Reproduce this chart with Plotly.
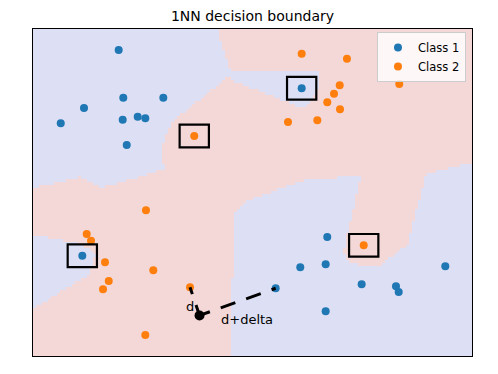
import numpy as np
import plotly.graph_objects as go

# ---- data ----
class1_x = [-1.829, -1.766, -1.219, -2.303, -2.621, -1.774, -1.569, -1.465, -1.719, 0.672,
            -2.326, 1.022, 0.653, 1.000, 2.635, 0.317, 1.492, 1.961, 1.998, 1.000]
class1_y = [1.961, 1.305, 1.305, 1.163, 0.952, 1.002, 1.043, 1.021, 0.654, 1.434,
            -0.870, -0.612, -1.029, -0.988, -1.015, -1.318, -1.263, -1.291, -1.369, -1.635]
class2_x = [-0.796, 0.672, 1.291, 1.192, 1.114, 1.022, 1.196, 2.006, 0.485, 0.886,
            -1.456, -2.266, -2.207, -2.016, -1.356, -1.965, -2.043, -0.854, -1.465, 1.520]
class2_y = [0.778, 1.910, 1.841, 1.475, 1.360, 1.241, 1.145, 1.493, 0.970, 0.994,
            -0.245, -0.571, -0.663, -0.960, -1.070, -1.218, -1.332, -1.304, -1.961, -0.727]
# boxed (label-noise) points: (class, index)
boxed = [(2, 0), (1, 9), (1, 10), (2, 19)]
query_x = [-0.724]
query_y = [-1.692]
label_d = ("d", -0.936, -1.562)
label_dd = ("d+delta", -0.454, -1.741)
x_range = [-3.0, 3.0]
y_range = [-2.25, 2.25]

# ---- styles ----
BLUE = "#1f77b4"
ORANGE = "#ff7f0e"
BG_BLUE = "#dde0f5"
BG_PINK = "#f4d8d8"
box_hw, box_hh = 0.2, 0.156
dash_style = "11px,11.5px,15.5px,11.5px,15.5px,11.5px,15.5px,11.5px"

# ---- 1NN decision region on a grid ----
X = np.array(class1_x + class2_x)
Y = np.array(class1_y + class2_y)
lab = np.array([0] * len(class1_x) + [1] * len(class2_x))
nx, ny = 146, 109
gx = x_range[0] + (np.arange(nx) + 0.5) * (x_range[1] - x_range[0]) / nx
gy = y_range[0] + (np.arange(ny) + 0.5) * (y_range[1] - y_range[0]) / ny
GX, GY = np.meshgrid(gx, gy)
d2 = (GX[..., None] - X) ** 2 + (GY[..., None] - Y) ** 2
Z = lab[np.argmin(d2, axis=-1)]

fig = go.Figure()
fig.add_trace(go.Heatmap(
    x=gx, y=gy, z=Z, zmin=0, zmax=1, showscale=False, hoverinfo="skip",
    colorscale=[[0, BG_BLUE], [0.5, BG_BLUE], [0.5, BG_PINK], [1, BG_PINK]],
))
fig.add_trace(go.Scatter(x=class1_x, y=class1_y, mode="markers", name="Class 1",
                         marker=dict(color=BLUE, size=8)))
fig.add_trace(go.Scatter(x=class2_x, y=class2_y, mode="markers", name="Class 2",
                         marker=dict(color=ORANGE, size=8)))

# boxes around boxed points
for cls, i in boxed:
    px = class1_x[i] if cls == 1 else class2_x[i]
    py = class1_y[i] if cls == 1 else class2_y[i]
    fig.add_shape(type="rect", x0=px - box_hw, x1=px + box_hw, y0=py - box_hh, y1=py + box_hh,
                  line=dict(color="black", width=2.2), fillcolor="rgba(0,0,0,0)")

# nearest neighbour of each class from query point
qx, qy = query_x[0], query_y[0]
d1 = [(qx - a) ** 2 + (qy - b) ** 2 for a, b in zip(class1_x, class1_y)]
d2c = [(qx - a) ** 2 + (qy - b) ** 2 for a, b in zip(class2_x, class2_y)]
i1 = int(np.argmin(d1))
i2 = int(np.argmin(d2c))
for tx, ty in [(class2_x[i2], class2_y[i2]), (class1_x[i1], class1_y[i1])]:
    fig.add_trace(go.Scatter(x=[qx, tx], y=[qy, ty], mode="lines", showlegend=False,
                             hoverinfo="skip",
                             line=dict(color="black", width=3, dash=dash_style)))
fig.add_trace(go.Scatter(x=query_x, y=query_y, mode="markers", showlegend=False,
                         marker=dict(color="black", size=10)))

for txt, ax_, ay_ in [label_d, label_dd]:
    fig.add_annotation(x=ax_, y=ay_, text=txt, showarrow=False, xanchor="left", yanchor="middle",
                       font=dict(family="DejaVu Sans", size=13, color="black"))

# the page body adds an 8px margin; compensate so the plot lands where the reference has it
W, H, OFF = 498, 374, 8
fig.update_layout(
    width=W - OFF, height=H - OFF,
    margin=dict(l=33 - OFF, r=26, t=29 - OFF, b=18),
    paper_bgcolor="white", plot_bgcolor="white",
    font=dict(family="DejaVu Sans", color="black"),
    title=dict(text="1NN decision boundary", x=(252.5 - OFF) / (W - OFF), xanchor="center",
               y=1 - (16 - OFF) / (H - OFF), yanchor="middle", yref="container",
               font=dict(size=14, family="DejaVu Sans")),
    legend=dict(x=0.9863, y=0.991, xanchor="right", yanchor="top",
                bgcolor="rgba(255,255,255,0.8)", bordercolor="#cccccc", borderwidth=1,
                font=dict(size=11.5, family="DejaVu Sans")),
    showlegend=True,
)
fig.update_xaxes(range=x_range, showticklabels=False, ticks="", showgrid=False, zeroline=False,
                 showline=True, mirror=True, linecolor="black", linewidth=1)
fig.update_yaxes(range=y_range, showticklabels=False, ticks="", showgrid=False, zeroline=False,
                 showline=True, mirror=True, linecolor="black", linewidth=1)

fig.write_html("out.html")
